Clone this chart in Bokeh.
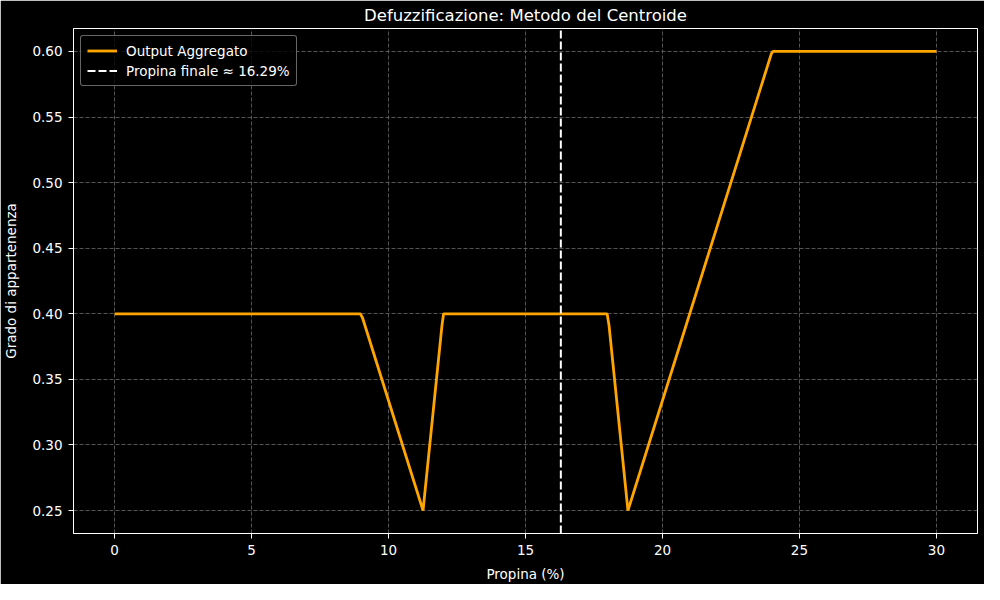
from bokeh.plotting import figure
from bokeh.models import Range1d, FixedTicker, Legend, LegendItem, CustomJSTickFormatter
from bokeh.embed import file_html
from bokeh.resources import INLINE

# Data
x_vals = [0.0, 8.97, 9.05, 11.26, 11.95, 12.01, 17.98, 18.05, 18.74, 23.97, 24.03, 30.0]
y_vals = [0.40, 0.40, 0.397, 0.25, 0.391, 0.40, 0.40, 0.391, 0.25, 0.598, 0.60, 0.60]
centroid = 16.29
x_ticks = [0, 5, 10, 15, 20, 25, 30]
y_ticks = [0.25, 0.30, 0.35, 0.40, 0.45, 0.50, 0.55, 0.60]

FONT = "DejaVu Sans"

p = figure(width=984, height=584, output_backend="svg", toolbar_location=None,
           x_range=Range1d(-1.5, 31.5), y_range=Range1d(0.2325, 0.6175),
           title="Defuzzificazione: Metodo del Centroide",
           min_border_left=67, min_border_right=7, min_border_top=27, min_border_bottom=50)

p.background_fill_color = "black"
p.border_fill_color = "black"
p.outline_line_color = "white"
p.outline_line_width = 1

p.title.text_color = "white"
p.title.text_font = FONT
p.title.text_font_size = "16.5px"
p.title.text_font_style = "normal"
p.title.align = "center"
p.title.standoff = 7

for ax in (p.xaxis[0], p.yaxis[0]):
    ax.axis_line_color = "white"
    ax.major_tick_line_color = "white"
    ax.major_tick_out = 5
    ax.major_tick_in = 0
    ax.minor_tick_line_color = None
    ax.major_label_text_color = "white"
    ax.major_label_text_font = FONT
    ax.major_label_text_font_size = "13.5px"
    ax.axis_label_text_color = "white"
    ax.axis_label_text_font = FONT
    ax.axis_label_text_font_size = "13.5px"
    ax.axis_label_text_font_style = "normal"

p.xaxis.ticker = FixedTicker(ticks=x_ticks)
p.yaxis.ticker = FixedTicker(ticks=y_ticks)
p.yaxis.formatter = CustomJSTickFormatter(code="return tick.toFixed(2);")
p.xaxis.axis_label = "Propina (%)"
p.yaxis.axis_label = "Grado di appartenenza"
p.xaxis.major_label_standoff = 6
p.yaxis.major_label_standoff = 6
p.xaxis.axis_label_standoff = 8
p.yaxis.axis_label_standoff = 10

p.grid.grid_line_color = "#6a6a6a"
p.grid.grid_line_dash = "4 2"
p.grid.grid_line_width = 0.8

line = p.line(x_vals, y_vals, line_color="#FFA500", line_width=2.8)
vline = p.line([centroid, centroid], [0.2325, 0.6175], line_color="white",
               line_width=2, line_dash="8 3")

legend = Legend(items=[LegendItem(label="Output Aggregato", renderers=[line]),
                       LegendItem(label="Propina finale \u2248 16.29%", renderers=[vline])],
                location="top_left")
legend.background_fill_color = "black"
legend.background_fill_alpha = 0.8
legend.border_line_color = "#cccccc"
legend.border_line_width = 1
legend.border_radius = 3
legend.label_text_color = "white"
legend.label_text_font = FONT
legend.label_text_font_size = "13.5px"
legend.margin = 7
legend.padding = 6
legend.spacing = 3
legend.glyph_width = 30
legend.label_height = 17
legend.glyph_height = 17
legend.label_standoff = 9
p.add_layout(legend)

open("out.html", "w").write(file_html(p, INLINE))
